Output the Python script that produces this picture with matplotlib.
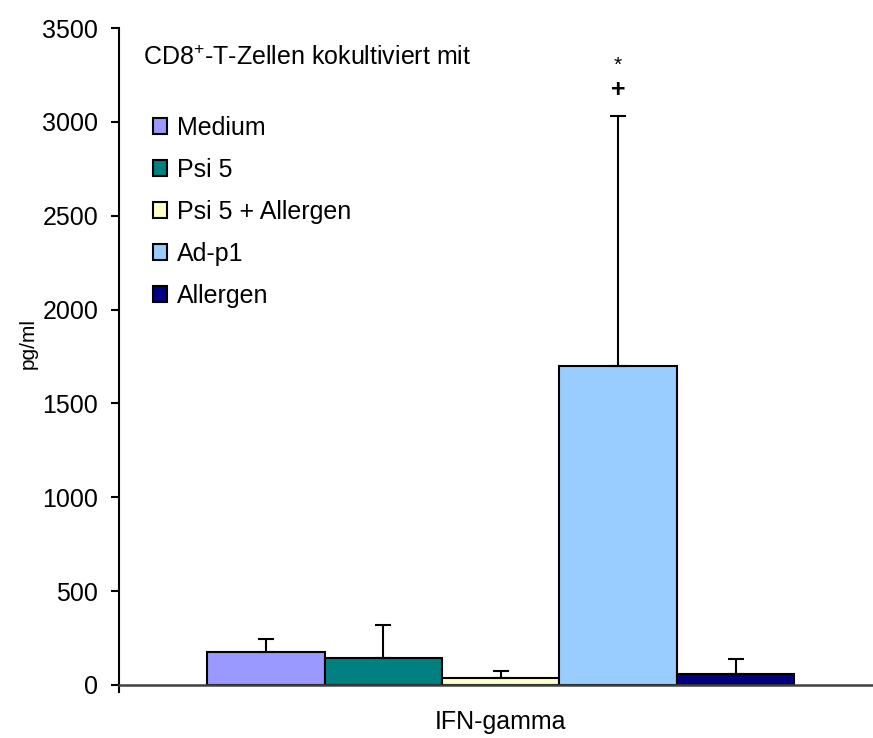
import matplotlib.pyplot as plt

plt.rcParams['font.family'] = ['Liberation Sans', 'DejaVu Sans']
plt.rcParams['mathtext.fontset'] = 'custom'
plt.rcParams['mathtext.rm'] = 'Liberation Sans'

gruppen = ['Medium', 'Psi 5', 'Psi 5 + Allergen', 'Ad-p1', 'Allergen']
mittelwerte = [178, 146, 39, 1700, 60]
fehler = [65, 174, 36, 1330, 77]
farben = ['#9999FF', '#008080', '#FFFFCC', '#99CCFF', '#000080']
kategorie = 'IFN-gamma'

fs = 18

fig = plt.figure(figsize=(8.73, 7.38), dpi=100)
ax = fig.add_axes([119 / 873, 1 - 685 / 738, 1 - 119 / 873, (685 - 28) / 738])

pos = list(range(len(gruppen)))
balken = ax.bar(pos, mittelwerte, width=1.0, color=farben, edgecolor='black',
                linewidth=1.5, label=gruppen,
                yerr=[[0] * len(fehler), fehler], capsize=5.5,
                error_kw=dict(elinewidth=1.5, capthick=1.5, ecolor='black'))

# Signifikanzzeichen über dem Ad-p1-Balken
i = gruppen.index('Ad-p1')
oben = mittelwerte[i] + fehler[i]
ax.annotate('+', (i, oben), textcoords='offset points', xytext=(0, 19),
            ha='center', va='center', fontsize=18, fontweight='bold')
ax.annotate('*', (i, oben), textcoords='offset points', xytext=(0, 37),
            ha='center', va='center', fontsize=15)

ax.set_xlim(-1.25, 5.17)
ax.set_ylim(0, 3500)
ax.set_yticks(range(0, 3501, 500))
ax.set_xticks([2])
ax.set_xticklabels([kategorie], fontsize=fs)
ax.set_xticks([-1.25], minor=True)
ax.tick_params(axis='x', which='major', length=0, pad=18)
ax.tick_params(axis='x', which='minor', length=6, width=1.5, direction='out')
ax.tick_params(axis='y', length=6, width=1.5, labelsize=fs, pad=9)
ax.set_ylabel('pg/ml', fontsize=15)
ax.yaxis.set_label_coords(-0.108, 0.52)

for s in ['top', 'right']:
    ax.spines[s].set_visible(False)
ax.spines['left'].set_linewidth(1.5)
ax.spines['bottom'].set_linewidth(1.8)
ax.spines['bottom'].set_color('#404040')

fig.text(143 / 873, 1 - 58 / 738, 'CD8$^{+}$-T-Zellen kokultiviert mit',
         fontsize=fs, ha='left', va='center')
ax.legend(handles=list(balken), labels=gruppen, loc='upper left',
          bbox_to_anchor=(153 / 873, 1 - 116 / 738), bbox_transform=fig.transFigure,
          frameon=False, fontsize=fs, borderpad=0, borderaxespad=0,
          handlelength=0.56, handleheight=0.6, handletextpad=0.4,
          labelspacing=0.72)

fig.savefig('out.png', dpi=100)
